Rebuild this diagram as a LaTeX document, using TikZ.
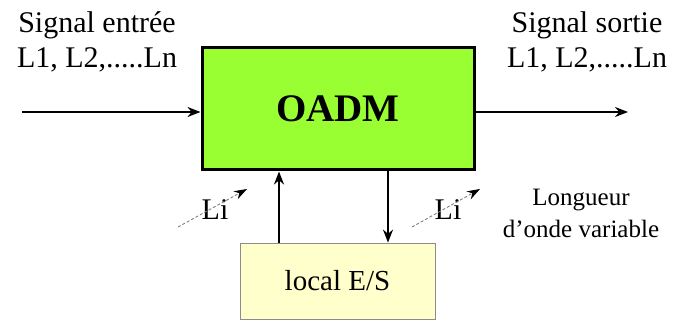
\documentclass[tikz,border=0pt]{standalone}
\usepackage{fontspec}
\setmainfont{Liberation Serif}
\usetikzlibrary{arrows.meta}
\definecolor{oadmgreen}{RGB}{153,255,51}
\definecolor{localyellow}{RGB}{255,255,204}
\definecolor{localborder}{RGB}{140,140,140}
\tikzset{
  mainbox/.style={draw=black, line width=3pt, fill=oadmgreen, minimum width=272pt, minimum height=122pt, inner sep=0pt},
  localbox/.style={draw=localborder, line width=0.8pt, fill=localyellow, minimum width=195pt, minimum height=76pt, inner sep=0pt},
  sigarrow/.style={line width=2pt, -{Stealth[length=13pt,width=10pt]}},
  liarrow/.style={draw=gray, line width=0.9pt, dash pattern=on 3pt off 2pt, -{Stealth[length=13pt,width=9pt,color=black,fill=black]}},
  lbl/.style={align=center, inner sep=0pt},
  bigtxt/.style={lbl, font=\fontsize{30}{35}\selectfont},
  smalltxt/.style={lbl, font=\fontsize{25}{32}\selectfont}
}
\begin{document}
\begin{tikzpicture}[x=1pt,y=-1pt]
\useasboundingbox (0,0) rectangle (673,320);
\node[mainbox, font=\fontsize{39}{44}\selectfont\bfseries] (oadm) at (338,109) {OADM};
\node[localbox, font=\fontsize{29}{32}\selectfont] (local) at (337.5,281) {local E/S};
\node[bigtxt] (sigin) at (97,42) {Signal entrée\\L1, L2,.....Ln};
\node[bigtxt] (sigout) at (587,42) {Signal sortie\\L1, L2,.....Ln};
\node[smalltxt] (longueur) at (581,213) {Longueur\\d’onde variable};
\node[lbl, font=\fontsize{30}{30}\selectfont] (li1) at (215,210) {Li};
\node[lbl, font=\fontsize{30}{30}\selectfont] (li2) at (448,210) {Li};
\coordinate (inS) at (22,112);
\coordinate (outE) at (628,112);
\coordinate (upx) at (279,0);
\coordinate (dnx) at (388,0);
\coordinate (l1a) at (178,227);
\coordinate (l1b) at (247,189);
\coordinate (l2a) at (412,227);
\coordinate (l2b) at (480,189);
\draw[sigarrow] (inS) -- (inS -| oadm.west);
\draw[sigarrow] (outE -| oadm.east) -- (outE);
\draw[sigarrow] (local.north -| upx) -- (oadm.south -| upx);
\draw[sigarrow] (oadm.south -| dnx) -- (local.north -| dnx);
\draw[liarrow] (l1a) -- (l1b);
\draw[liarrow] (l2a) -- (l2b);
\end{tikzpicture}
\end{document}
